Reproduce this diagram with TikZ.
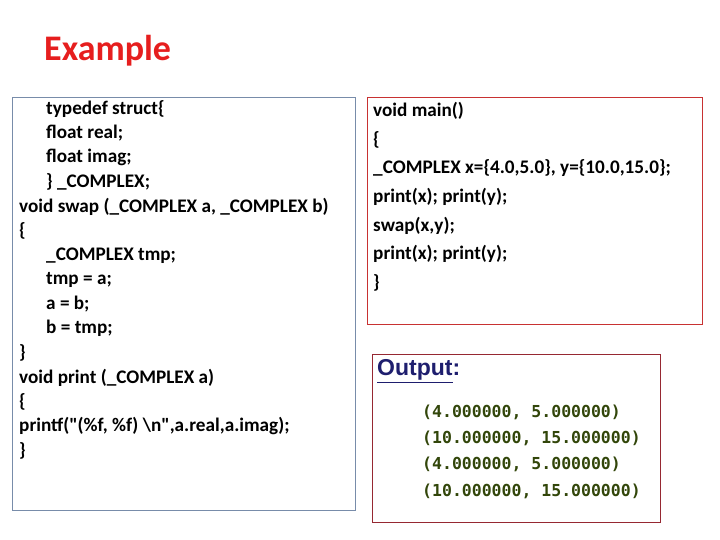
\documentclass[tikz,border=0pt]{standalone}
\usepackage{fontspec}
\setmainfont{Carlito}[Ligatures=TeXOff]
\newfontfamily\outfont{Liberation Sans}
\newfontfamily\monofont{DejaVu Sans Mono}
\definecolor{titlered}{RGB}{230,30,30}
\definecolor{leftframe}{RGB}{120,140,170}
\definecolor{rightframe}{RGB}{200,50,50}
\definecolor{outframe}{RGB}{150,40,50}
\definecolor{outblue}{RGB}{30,30,110}
\definecolor{outgreen}{RGB}{50,70,10}
\tikzset{
  codeline/.style={anchor=west, inner sep=0pt, font=\bfseries\fontsize{19.2}{21}\selectfont},
  outline/.style={anchor=west, inner sep=0pt, text=outgreen, font=\monofont\bfseries\fontsize{16.5}{18}\selectfont}
}
\begin{document}
\begin{tikzpicture}[x=1pt,y=-1pt]
    \useasboundingbox (0,0) rectangle (720,540);
    \node[anchor=west, inner sep=0pt, text=titlered, font=\bfseries\fontsize{36}{40}\selectfont] (title) at (44,51) {Example};

    % boxes
    \draw[leftframe] (12,97) rectangle (355,510);
    \draw[rightframe] (367,97) rectangle (702,324);
    \draw[outframe] (372,354) rectangle (660,522);

    % left code
    \foreach \txt/\xx [count=\i from 0] in {%
        typedef struct\{/46, float real;/46, float imag;/46, \} \_COMPLEX;/46,
        void swap (\_COMPLEX a{,} \_COMPLEX b)/19, \{/19, \_COMPLEX tmp;/46,
        tmp = a;/46, a = b;/46, b = tmp;/46, \}/19, void print (\_COMPLEX a)/19,
        \{/19, printf("(\%f{,} \%f) \textbackslash n"{,}a.real{,}a.imag);/19, \}/19}
        \node[codeline] (l\i) at (\xx,109+24.4*\i) {\txt};

    % right code
    \foreach \txt [count=\i from 0] in {%
        void main(), \{, \_COMPLEX x=\{4.0{,}5.0\}{,} y=\{10.0{,}15.0\};,
        print(x); print(y);, swap(x{,}y);, print(x); print(y);, \}}
        \node[codeline] (r\i) at (373,111+28.6*\i) {\txt};

    % output
    \node[anchor=west, inner sep=0pt, text=outblue, font=\outfont\bfseries\fontsize{23}{25}\selectfont] (out) at (377,371) {\underline{Output}:};
    \foreach \txt [count=\i from 0] in {(4.000000{,} 5.000000), (10.000000{,} 15.000000),
        (4.000000{,} 5.000000), (10.000000{,} 15.000000)}
        \node[outline] (o\i) at (422,412+26.4*\i) {\txt};
\end{tikzpicture}
\end{document}
